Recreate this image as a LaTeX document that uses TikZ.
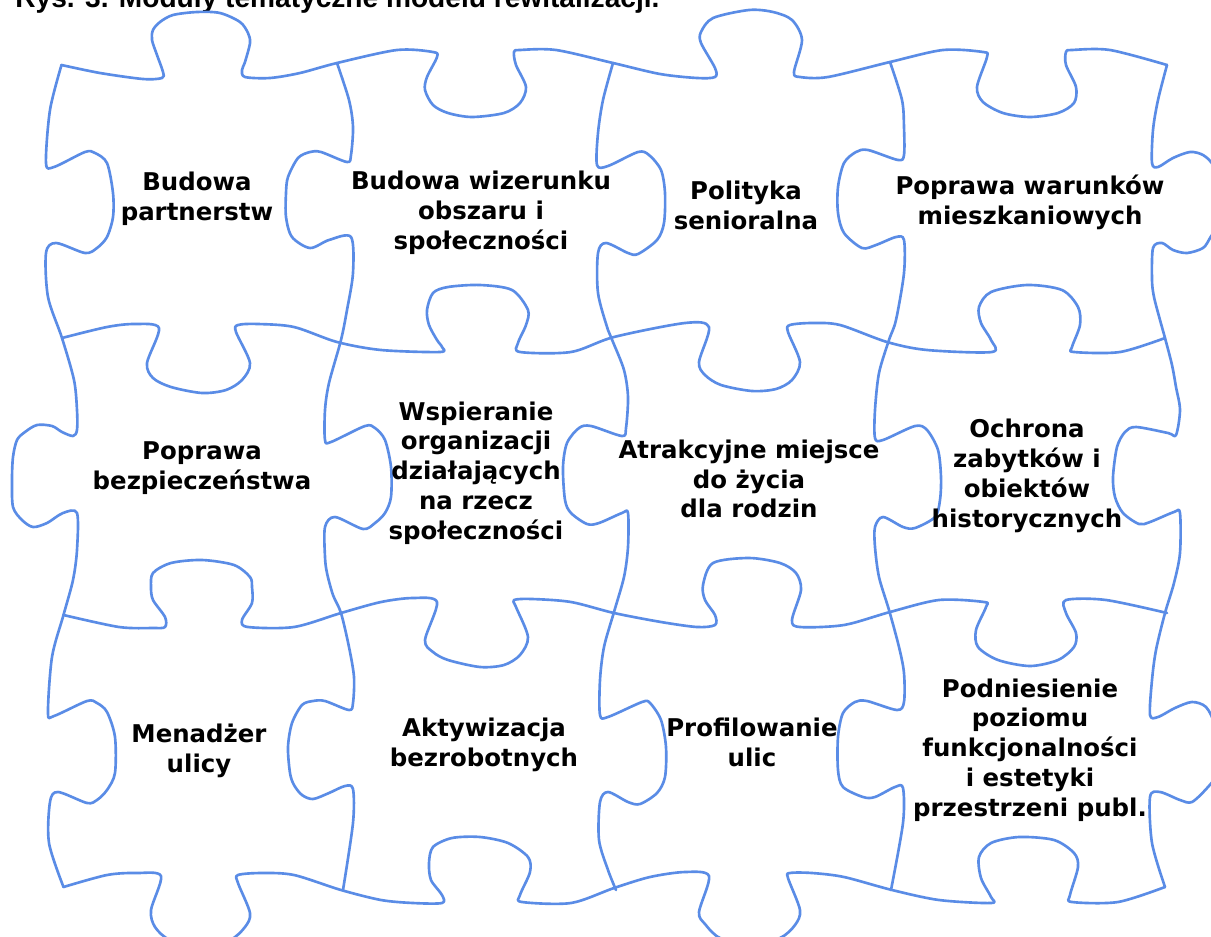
\documentclass[tikz,border=0pt]{standalone}
\usepackage{fontspec}
\newfontfamily\piecefont{DejaVu Sans}
\newfontfamily\titlefont{Liberation Sans}
\definecolor{puzzle}{RGB}{90,140,230}
\tikzset{
  edge/.style={draw=puzzle, line width=1.5pt, line join=round, line cap=round},
  lbl/.style={font=\piecefont\bfseries\fontsize{13.9}{17}\selectfont, align=center, text=black, inner sep=0pt},
}
\begin{document}
\begin{tikzpicture}[x=0.02cm,y=-0.02cm]
\useasboundingbox (0,0) rectangle (1211,937);
\clip (0,0) rectangle (1211,937);
\fill[white] (0,0) rectangle (1211,937);

% title (cut by the top edge)
\node[anchor=base west, font=\titlefont\bfseries\fontsize{16}{19}\selectfont, inner sep=0pt] (title) at (15,7) {Rys. 3. Moduły tematyczne modelu rewitalizacji.};

% horizontal seams
\draw[edge] plot[smooth, tension=0.5] coordinates {(61.5,65) (100,73) (143,79) (162,78) (163,72) (157,55) (152,40) (153,30) (160,22) (173,15) (197,12) (220,13) (240,22) (248,33) (250,43) (245,62) (242,70) (245,77) (270,78) (300,73) (337,63) (397,50) (433,52) (437,57) (427,77) (425,90) (433,105) (448,113) (472,117) (504,113) (520,103) (526,87) (516,65) (514,52) (520,50) (556,50) (613,63) (660,74) (697,78) (715,77) (715,68) (701,43) (701,32) (713,18) (749,10) (773,12) (792,20) (802,40) (794,72) (800,77) (828,77) (890,62) (943,50) (983,52) (987,57) (977,87) (983,102) (1003,113) (1030,117) (1058,113) (1074,103) (1076,87) (1066,65) (1066,52) (1072,50) (1110,50) (1167,65)};

\draw[edge] plot[smooth, tension=0.5] coordinates {(62,338) (107,327) (135,324) (159,328) (147,363) (153,378) (171,387) (202,393) (226,390) (242,380) (250,363) (236,332) (238,325) (258,324) (294,327) (337,342) (381,350) (440,352) (442,347) (437,340) (429,325) (427,310) (433,293) (448,287) (480,285) (512,290) (528,310) (526,325) (518,343) (520,352) (571,352) (614,337) (685,323) (709,327) (699,362) (705,375) (721,385) (752,391) (776,389) (792,380) (800,362) (788,332) (790,325) (812,323) (840,325) (887,342) (927,350) (992,352) (991,340) (981,323) (979,307) (991,292) (1027,285) (1062,290) (1078,307) (1080,325) (1072,347) (1074,352) (1120,352) (1165,338)};

\draw[edge] plot[smooth, tension=0.5] coordinates {(63.5,615) (119,627) (153,628) (165,627) (165,617) (153,600) (151,587) (153,573) (171,563) (202,560) (234,565) (250,577) (252,587) (252,603) (242,620) (248,627) (294,627) (341,613) (381,602) (413,598) (437,602) (425,640) (433,652) (448,660) (480,667) (504,665) (520,655) (528,637) (516,607) (514,600) (532,599) (571,602) (614,613) (661,622) (697,627) (715,625) (715,615) (705,600) (703,585) (713,563) (749,558) (780,563) (796,573) (801,590) (792,620) (800,627) (844,625) (890,612) (939,600) (984,602) (986,607) (976,630) (978,647) (998,660) (1030,666) (1058,660) (1074,647) (1076,633) (1066,613) (1066,600) (1106,600) (1167,613)};

\draw[edge] plot[smooth, tension=0.5] coordinates {(63.5,887) (107,875) (137,873) (161,876) (151,910) (155,927) (170,940) (200,946) (230,940) (245,927) (250,913) (238,883) (238,875) (262,873) (294,875) (341,890) (381,900) (413,903) (442,903) (442,895) (431,880) (429,863) (433,847) (452,838) (480,837) (508,843) (528,857) (530,872) (520,895) (522,902) (571,903) (614,888) (650,877) (685,872) (709,876) (699,912) (705,924) (720,938) (750,944) (780,938) (795,925) (800,910) (788,878) (790,873) (812,873) (844,877) (892,890) (939,900) (991,903) (991,897) (981,878) (979,857) (991,843) (1019,837) (1054,840) (1074,853) (1078,867) (1070,895) (1072,902) (1118,902) (1165,887)};

% vertical seams
\draw[edge] plot[smooth, tension=0.5] coordinates {(61.5,65) (50,110) (46,163) (54,167) (85,152) (95,153) (107,163) (113,193) (113,217) (107,237) (97,248) (85,253) (56,243) (46,253) (48,297) (62,338) (74,380) (77,410) (77,430) (73,436) (62,432) (52,426) (37,425) (25,432) (17,440) (13,457) (12,480) (13,507) (22,520) (33,527) (47,523) (63,513) (77,513) (77,550) (73,580) (63.5,615) (52,657) (48,713) (54,716) (87,701) (97,703) (107,712) (115,737) (115,773) (107,790) (97,800) (87,803) (58,792) (50,802) (49,843) (63.5,887)};

\draw[edge] plot[smooth, tension=0.5] coordinates {(337,63) (349,100) (353,127) (351,155) (347,162) (321,152) (310,152) (298,158) (288,177) (286,193) (286,217) (292,237) (310,248) (329,240) (351,237) (353,273) (347,310) (341,340) (329,383) (325,410) (325,440) (331,442) (365,426) (375,428) (385,440) (391,467) (391,497) (385,513) (375,523) (363,529) (335,517) (325,527) (325,557) (327,573) (333,595) (341,613) (349,647) (354,677) (353,703) (349,710) (325,701) (313,701) (302,705) (292,723) (288,747) (290,773) (294,785) (302,795) (313,799) (329,793) (345,786) (353,789) (353,823) (343,890)};

\draw[edge] plot[smooth, tension=0.5] coordinates {(613,63) (603,100) (598,133) (597,165) (608,166) (638,152) (649,155) (661,170) (665,193) (664,223) (657,240) (638,254) (628,253) (606,243) (598,253) (598,293) (608,330) (613,342) (624,370) (628,397) (626,428) (622,436) (591,426) (579,428) (567,443) (563,467) (565,500) (571,513) (587,524) (599,523) (622,513) (628,513) (628,547) (624,577) (614,612) (604,647) (600,680) (600,715) (608,717) (642,702) (650,703) (661,720) (666,747) (665,777) (657,793) (640,804) (628,802) (608,792) (600,802) (599,840) (608,870) (616,890)};

\draw[edge] plot[smooth, tension=0.5] coordinates {(890,62) (902,100) (904,127) (904,155) (898,160) (868,150) (856,152) (844,163) (838,187) (838,213) (844,233) (862,248) (876,245) (896,237) (904,240) (904,273) (896,320) (889,340) (879,373) (875,410) (875,438) (883,440) (915,426) (927,430) (938,450) (941,477) (940,500) (935,517) (915,528) (903,527) (883,517) (875,527) (875,547) (879,577) (889,610) (899,647) (904,673) (904,702) (897,710) (867,701) (855,702) (843,713) (838,737) (838,770) (843,787) (863,797) (875,797) (895,787) (903,788) (903,823) (891,890)};

\draw[edge] plot[smooth, tension=0.5] coordinates {(1167,65) (1158,100) (1153,130) (1152,163) (1158,167) (1173,158) (1190,152) (1203,155) (1213,165) (1219,185) (1220,205) (1217,225) (1210,238) (1203,248) (1187,253) (1173,250) (1162,243) (1153,248) (1152,280) (1154,297) (1160,320) (1165,338) (1172,365) (1176,387) (1180,410) (1176,435) (1168,433) (1136,427) (1125,432) (1117,447) (1113,477) (1115,497) (1123,513) (1139,524) (1150,522) (1174,512) (1180,513) (1180,553) (1174,583) (1165,613) (1156,650) (1152,680) (1150,715) (1158,717) (1175,708) (1192,702) (1206,707) (1215,725) (1219,750) (1216,775) (1208,787) (1192,802) (1180,800) (1160,792) (1150,797) (1152,843) (1165,887)};

% labels
\node[lbl] (p1) at (197,199) {Budowa\\partnerstw};
\node[lbl] (p2) at (481,213) {Budowa wizerunku\\obszaru i\\społeczności};
\node[lbl] (p3) at (746,205) {Polityka\\senioralna};
\node[lbl] (p4) at (1030,202) {Poprawa warunków\\mieszkaniowych};
\node[lbl] (p5) at (202,468) {Poprawa\\bezpieczeństwa};
\node[lbl] (p6) at (476,473) {Wspieranie\\organizacji\\działających\\na rzecz\\społeczności};
\node[lbl] (p7) at (749,479) {Atrakcyjne miejsce\\do życia\\dla rodzin};
\node[lbl] (p8) at (1027,476) {Ochrona\\zabytków i\\obiektów\\historycznych};
\node[lbl] (p9) at (199,751) {Menadżer\\ulicy};
\node[lbl] (p10) at (484,745) {Aktywizacja\\bezrobotnych};
\node[lbl] (p11) at (752,742) {Profilowanie\\ulic};
\node[lbl] (p12) at (1030,750) {Podniesienie\\poziomu\\funkcjonalności\\i estetyki\\przestrzeni publ.};
\end{tikzpicture}
\end{document}
